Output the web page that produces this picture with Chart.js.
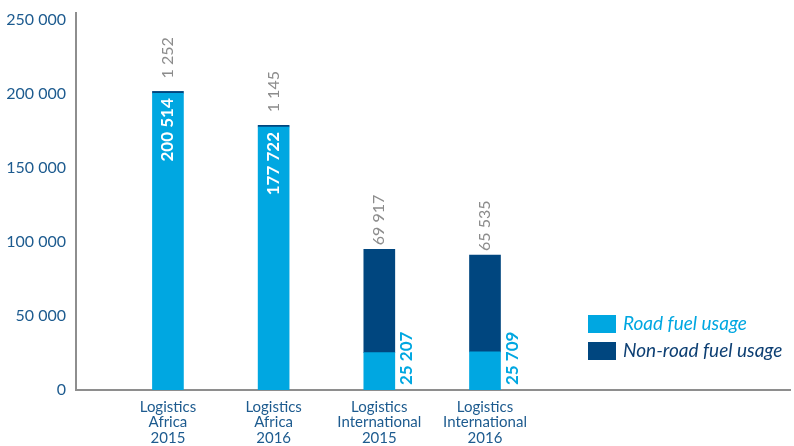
<!DOCTYPE html>
<html>
<head>
<meta charset="utf-8">
<script src="https://cdn.jsdelivr.net/npm/chart.js@4.4.0/dist/chart.umd.min.js"></script>
<style>
    html, body { margin: 0; padding: 0; background: #fff; }
    #wrap { width: 794px; height: 446px; position: relative; }
</style>
</head>
<body>
<div id="wrap"><canvas id="fuelChart" width="794" height="446"></canvas></div>
<script>
const categories = [
    ['Logistics', 'Africa', '2015'],
    ['Logistics', 'Africa', '2016'],
    ['Logistics', 'International', '2015'],
    ['Logistics', 'International', '2016']
];
const categoryPos = [1, 2, 3, 4];
const roadFuel = [200514, 177722, 25207, 25709];
const nonRoadFuel = [1252, 1145, 69917, 65535];
const yTicks = [0, 50000, 100000, 150000, 200000, 250000];
const seriesNames = ['Road fuel usage', 'Non-road fuel usage'];

const ROAD = '#00a7e1';
const NON_ROAD = '#00467f';
const AXIS = '#8e8e8e';
const LABEL_BLUE = '#1d5b8f';
const GREY = '#8c8c8c';
const FONT = 'Lato, "Open Sans", sans-serif';

function fmt(n) {
    return String(n).replace(/\B(?=(\d{3})+(?!\d))/g, ' ');
}

// value labels, drawn rotated like the original
const valueLabels = {
    id: 'valueLabels',
    afterDatasetsDraw(chart) {
        const c = chart.ctx;
        const road = chart.getDatasetMeta(0).data;
        const non = chart.getDatasetMeta(1).data;

        road.forEach((bar, i) => {
            const txt = fmt(roadFuel[i]);
            c.save();
            c.font = 'bold 17px ' + FONT;
            const w = c.measureText(txt).width;
            const h = bar.base - bar.y;
            if (h > w + 12) {
                c.fillStyle = '#fff';
                c.translate(bar.x, bar.y + 5);
                c.rotate(-Math.PI / 2);
                c.textAlign = 'right';
            } else {
                c.fillStyle = ROAD;
                c.translate(bar.x + bar.width / 2 + 12, bar.base - 5);
                c.rotate(-Math.PI / 2);
                c.textAlign = 'left';
            }
            c.textBaseline = 'middle';
            c.fillText(txt, 0, 0);
            c.restore();
        });

        non.forEach((bar, i) => {
            const txt = fmt(nonRoadFuel[i]);
            const gap = (bar.base - bar.y) < 10 ? 13 : 4;
            c.save();
            c.font = '16px ' + FONT;
            c.fillStyle = GREY;
            c.translate(bar.x, bar.y - gap);
            c.rotate(-Math.PI / 2);
            c.textAlign = 'left';
            c.textBaseline = 'middle';
            c.fillText(txt, 0, 0);
            c.restore();
        });
    }
};

const sideLegend = {
    id: 'sideLegend',
    afterDraw(chart) {
        const c = chart.ctx;
        const left = chart.chartArea.right - 202;
        const top = 315;
        const textColors = [ROAD, '#0d3f73'];
        chart.data.datasets.forEach((ds, i) => {
            const y = top + i * 27;
            c.save();
            c.fillStyle = ds.backgroundColor;
            c.fillRect(left, y, 28, 18);
            c.font = 'italic 19px ' + FONT;
            c.fillStyle = textColors[i];
            c.textAlign = 'left';
            c.textBaseline = 'middle';
            c.fillText(ds.label, left + 35, y + 9);
            c.restore();
        });
    }
};

new Chart(document.getElementById('fuelChart'), {
    type: 'bar',
    data: {
        datasets: [
            {
                label: seriesNames[0],
                data: categoryPos.map((x, i) => ({ x: x, y: roadFuel[i] })),
                backgroundColor: ROAD,
                barThickness: 31
            },
            {
                label: seriesNames[1],
                data: categoryPos.map((x, i) => ({ x: x, y: nonRoadFuel[i] })),
                backgroundColor: NON_ROAD,
                barThickness: 31
            }
        ]
    },
    options: {
        responsive: false,
        animation: false,
        layout: { padding: { top: 13, right: 4, left: 0, bottom: 0 } },
        plugins: {
            legend: { display: false },
            tooltip: { enabled: false }
        },
        scales: {
            x: {
                type: 'linear',
                stacked: true,
                offset: false,
                bounds: 'data',
                min: 0.13,
                max: 6.886,
                grid: { display: false, drawTicks: false, offset: false },
                border: { color: AXIS, width: 2 },
                afterBuildTicks: s => { s.ticks = categoryPos.map(v => ({ value: v })); },
                afterFit: s => { s.height = 56; },
                ticks: {
                    callback: (v, i) => categories[i],
                    color: LABEL_BLUE,
                    font: { family: FONT, size: 15, lineHeight: 1.05 },
                    padding: 9,
                    maxRotation: 0,
                    autoSkip: false
                }
            },
            y: {
                stacked: true,
                min: 0,
                max: 254730, // axis line runs a little past the top tick
                grid: { display: false, drawTicks: false },
                border: { color: AXIS, width: 2 },
                afterBuildTicks: s => { s.ticks = yTicks.map(v => ({ value: v })); },
                afterFit: s => { s.width = 76; s.paddingTop = 0; },
                ticks: {
                    callback: v => fmt(v),
                    color: LABEL_BLUE,
                    font: { family: FONT, size: 16 },
                    padding: 10
                }
            }
        }
    },
    plugins: [valueLabels, sideLegend]
});
</script>
</body>
</html>
